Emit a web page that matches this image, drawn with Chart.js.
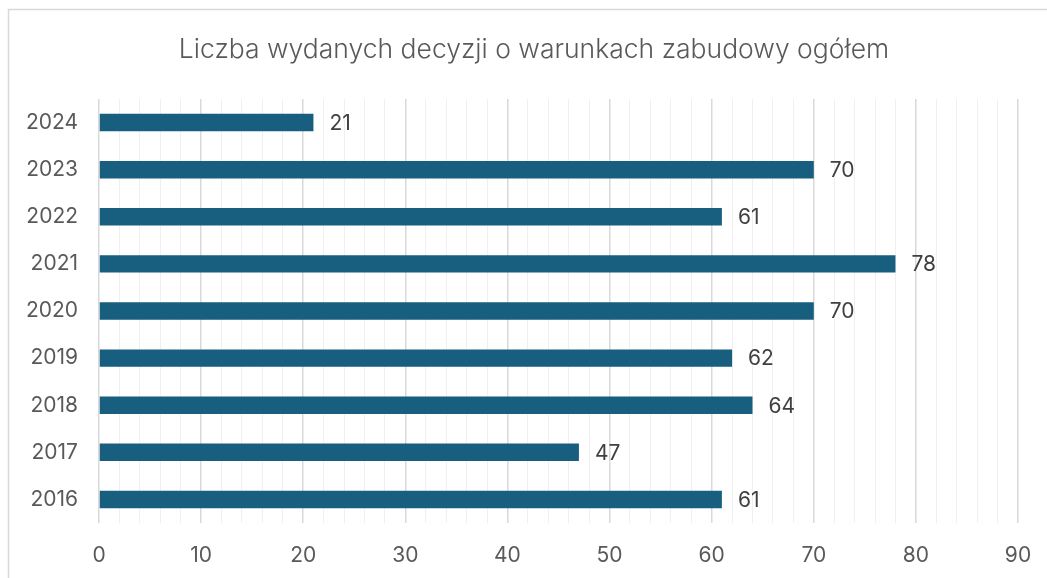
<!DOCTYPE html>
<html>
<head>
<meta charset="utf-8">
<script src="https://cdn.jsdelivr.net/npm/chart.js@4"></script>
<style>
  html, body { margin: 0; padding: 0; background: #fff; overflow: hidden; }
  #wrap { width: 1047px; height: 578px; position: relative; }
</style>
</head>
<body>
<div id="wrap"><canvas id="decyzje"></canvas></div>
<script>
// dane
const years = ['2016', '2017', '2018', '2019', '2020', '2021', '2022', '2023', '2024'];
const decisions = [61, 47, 64, 62, 70, 78, 61, 70, 21];
const xTicks = [0, 10, 20, 30, 40, 50, 60, 70, 80, 90];
const chartTitle = 'Liczba wydanych decyzji o warunkach zabudowy ogółem';

const FONT = 'Inter, "Noto Sans", sans-serif';

// ramka wykresu + tytuł
const frame = {
    id: 'frame',
    beforeDraw(chart) {
        const ctx = chart.ctx;
        ctx.save();
        ctx.strokeStyle = '#d9d9d9';
        ctx.lineWidth = 1.5;
        ctx.strokeRect(8.5, 9.5, chart.width + 20, chart.height + 20);
        ctx.restore();
    },
    afterDraw(chart) {
        const ctx = chart.ctx;
        ctx.save();
        ctx.font = '300 26.5px ' + FONT;
        ctx.fillStyle = '#595959';
        ctx.textAlign = 'center';
        ctx.textBaseline = 'middle';
        ctx.fillText(chartTitle, 534, 50);
        ctx.restore();
    }
};

// etykiety wartości przy słupkach
const valueLabels = {
    id: 'valueLabels',
    afterDatasetsDraw(chart) {
        const ctx = chart.ctx;
        const meta = chart.getDatasetMeta(0);
        ctx.save();
        ctx.font = '21px ' + FONT;
        ctx.fillStyle = '#404040';
        ctx.textAlign = 'left';
        ctx.textBaseline = 'middle';
        meta.data.forEach((bar, i) => {
            ctx.fillText(decisions[i], bar.x + 16, bar.y + 1);
        });
        ctx.restore();
    }
};

new Chart(document.getElementById('decyzje'), {
    type: 'bar',
    data: {
        labels: years,
        datasets: [{
            data: decisions,
            backgroundColor: '#175e7f',
            borderWidth: 0,
            barPercentage: 0.37,
            categoryPercentage: 1
        }]
    },
    options: {
        indexAxis: 'y',
        responsive: true,
        maintainAspectRatio: false,
        animation: false,
        layout: { padding: { top: 99, right: 29, left: 0, bottom: 0 } },
        plugins: {
            legend: { display: false },
            title: { display: false },
            tooltip: { enabled: false }
        },
        scales: {
            x: {
                min: 0,
                max: 90,
                border: { display: false },
                afterBuildTicks(scale) {
                    const t = [];
                    for (let v = 0; v <= 90; v += 2) t.push({ value: v });
                    scale.ticks = t;
                },
                afterFit(scale) {
                    scale.height = 55;
                    scale.paddingLeft = 0;
                    scale.paddingRight = 0;
                },
                ticks: {
                    autoSkip: false,
                    maxRotation: 0,
                    padding: 20,
                    color: '#595959',
                    font: { family: FONT, size: 21 },
                    callback: v => xTicks.includes(v) ? String(v) : ''
                },
                grid: {
                    drawTicks: false,
                    color: c => xTicks.includes(c.tick.value) ? '#d9d9d9' : '#f0f0f0',
                    lineWidth: c => xTicks.includes(c.tick.value) ? 1.5 : 1
                }
            },
            y: {
                reverse: true,
                border: { display: false },
                grid: { display: false },
                afterFit(scale) { scale.width = 99; },
                ticks: {
                    padding: 13,
                    color: '#595959',
                    font: { family: FONT, size: 21 }
                }
            }
        }
    },
    plugins: [frame, valueLabels]
});
</script>
</body>
</html>
